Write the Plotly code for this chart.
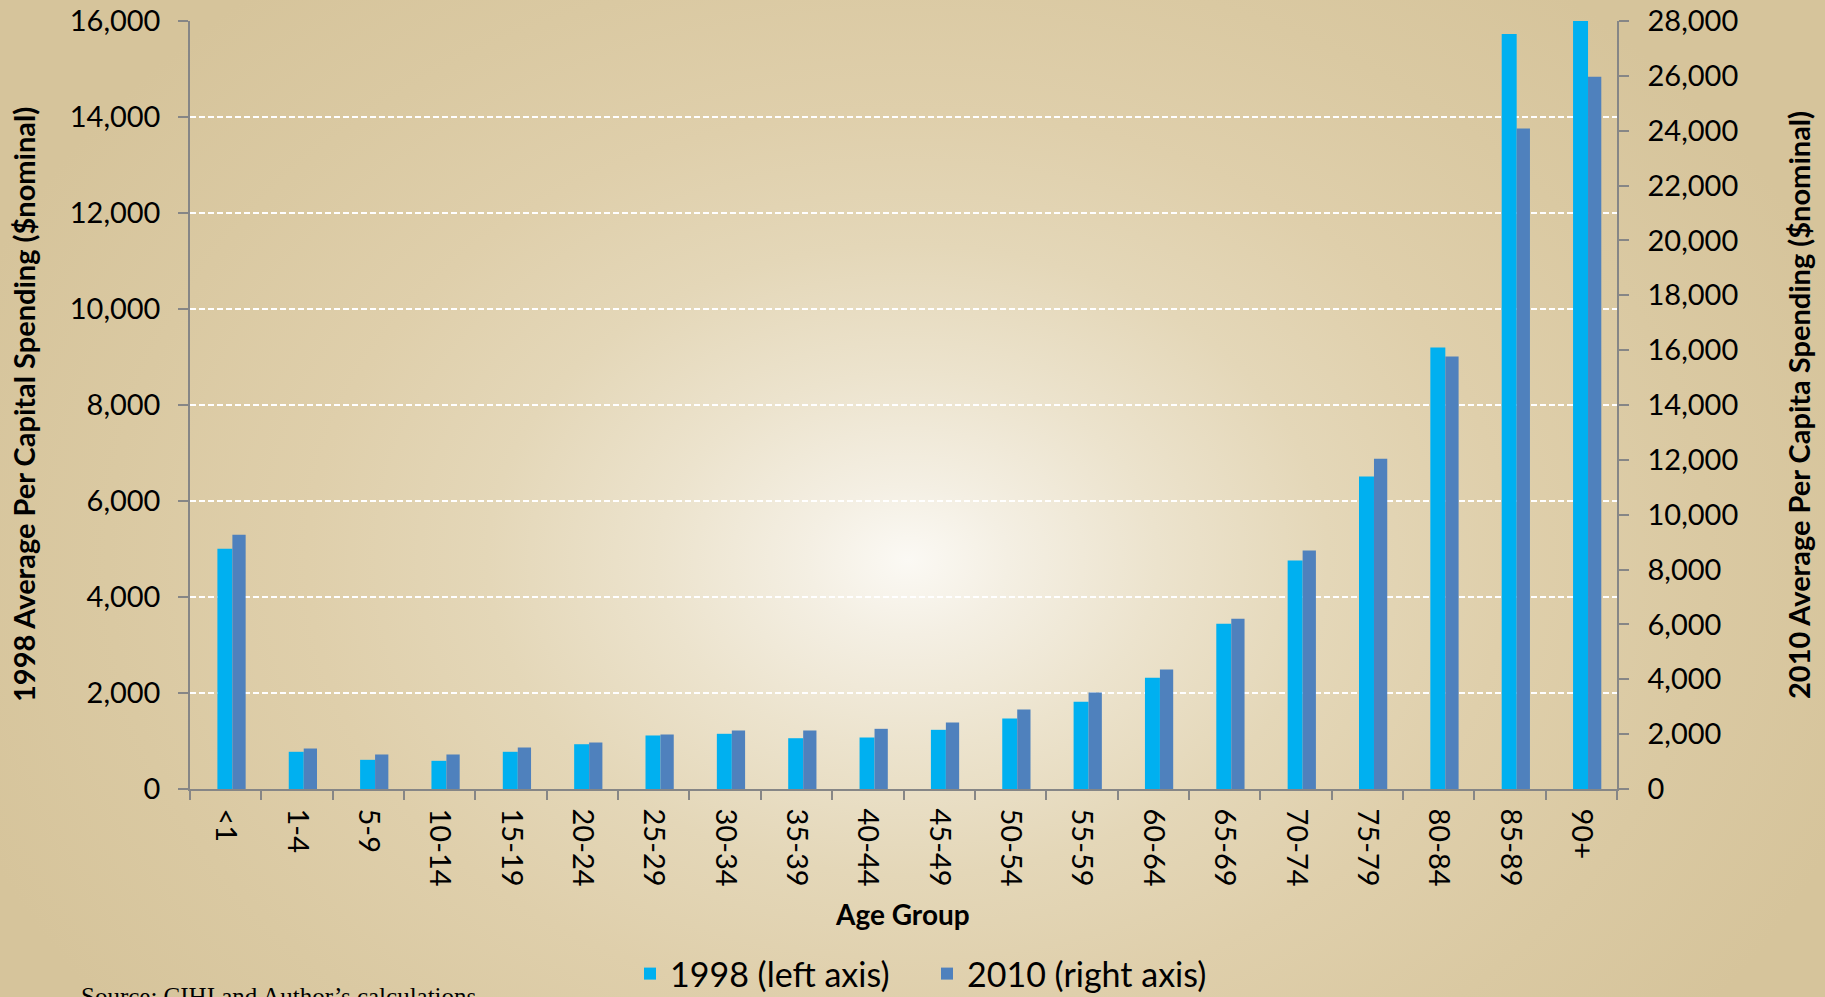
import base64
import plotly.graph_objects as go

age_groups = ["<1", "1-4", "5-9", "10-14", "15-19", "20-24", "25-29", "30-34", "35-39", "40-44",
              "45-49", "50-54", "55-59", "60-64", "65-69", "70-74", "75-79", "80-84", "85-89", "90+"]
spend_1998 = [5006, 775, 608, 587, 775, 933, 1115, 1150, 1058, 1073,
              1233, 1469, 1816, 2317, 3442, 4760, 6510, 9198, 15729, 16000]
spend_2010 = [9271, 1476, 1258, 1258, 1513, 1695, 1987, 2133, 2133, 2194,
              2424, 2898, 3518, 4357, 6205, 8695, 12037, 15767, 24080, 25970]

left_ticks = list(range(0, 16001, 2000))
right_ticks = list(range(0, 28001, 2000))

W, H = 1825, 997
L, R, T, B = 190, 208, 21, 208
pw, ph = W - L - R, H - T - B

svg = f'''<svg xmlns="http://www.w3.org/2000/svg" width="{W}" height="{H}" viewBox="0 0 {W} {H}">
<defs><radialGradient id="g" gradientUnits="userSpaceOnUse" cx="908" cy="560" r="1000"
gradientTransform="translate(908 560) scale(1 0.75) translate(-908 -560)">
<stop offset="0" stop-color="#fbf9f4"/>
<stop offset="0.1" stop-color="#f4efe3"/>
<stop offset="0.25" stop-color="#ece3cd"/>
<stop offset="0.42" stop-color="#e4d7b8"/>
<stop offset="0.6" stop-color="#dfcfab"/>
<stop offset="0.8" stop-color="#dac9a2"/>
<stop offset="1" stop-color="#d6c49b"/>
</radialGradient></defs>
<rect width="{W}" height="{H}" fill="url(#g)"/></svg>'''
bg_uri = "data:image/svg+xml;base64," + base64.b64encode(svg.encode()).decode()

FONT = "Lato"
TICK = 29
fig = go.Figure()
fig.add_trace(go.Bar(x=age_groups, y=spend_1998, name="1998 (left axis)",
                     marker=dict(color="#00B0F0", line=dict(width=0)),
                     width=0.21, offset=-0.116, yaxis="y"))
fig.add_trace(go.Bar(x=age_groups, y=spend_2010, name="2010 (right axis)",
                     marker=dict(color="#4F81BD", line=dict(width=0)),
                     width=0.186, offset=0.094, yaxis="y2"))

axis_col = "#868686"
fig.update_layout(
    width=W, height=H,
    margin=dict(l=L, r=R, t=T, b=B, autoexpand=False),
    paper_bgcolor="rgba(0,0,0,0)", plot_bgcolor="rgba(0,0,0,0)",
    barmode="overlay",
    font=dict(family=FONT, size=TICK, color="#000000"),
    images=[dict(source=bg_uri, xref="paper", yref="paper",
                 x=-L / pw, y=1 + T / ph, sizex=W / pw, sizey=H / ph,
                 xanchor="left", yanchor="top", sizing="stretch", layer="below")],
    xaxis=dict(type="category", showline=True, linecolor=axis_col, linewidth=1.5,
               ticks="outside", tickson="boundaries", ticklen=9, tickcolor=axis_col, tickwidth=1.5,
               tickangle=90, tickfont=dict(family=FONT, size=TICK), showgrid=False,
               ticklabelstandoff=12,
               range=[-0.5, len(age_groups) - 0.5]),
    yaxis=dict(range=[0, 16000], tickvals=left_ticks, tickformat=",",
               showline=True, linecolor=axis_col, linewidth=1.5,
               ticks="outside", ticklen=10, tickcolor=axis_col, tickwidth=1.5,
               ticklabelstandoff=12,
               showgrid=True, gridcolor="#ffffff", gridwidth=1.5, griddash="6px,3px",
               zeroline=False, tickfont=dict(family=FONT, size=TICK)),
    yaxis2=dict(range=[0, 28000], tickvals=right_ticks, tickformat=",", overlaying="y", side="right",
                showline=True, linecolor=axis_col, linewidth=1.5,
                ticks="outside", ticklen=10, tickcolor=axis_col, tickwidth=1.5,
                ticklabelstandoff=13,
                showgrid=False, zeroline=False, tickfont=dict(family=FONT, size=TICK)),
    legend=dict(orientation="h", x=(630 - L) / pw, xanchor="left", y=(T + ph - 974) / ph, yanchor="middle",
                font=dict(family=FONT, size=34), bgcolor="rgba(0,0,0,0)", traceorder="normal",
                itemwidth=30, entrywidth=252, entrywidthmode="pixels"),
    showlegend=True,
)

fig.add_annotation(text="<b>1998 Average Per Capital Spending ($nominal)</b>", xref="paper", yref="paper",
                   x=(23 - L) / pw, y=0.5, xanchor="center", yanchor="middle", textangle=-90,
                   showarrow=False, font=dict(family=FONT, size=29))
fig.add_annotation(text="<b>2010 Average Per Capita Spending ($nominal)</b>", xref="paper", yref="paper",
                   x=(1798 - L) / pw, y=0.5, xanchor="center", yanchor="middle", textangle=-90,
                   showarrow=False, font=dict(family=FONT, size=29))
fig.add_annotation(text="<b>Age Group</b>", xref="paper", yref="paper",
                   x=(902 - L) / pw, y=(T + ph - 914) / ph, xanchor="center", yanchor="middle",
                   showarrow=False, font=dict(family=FONT, size=28))
fig.add_annotation(text="Source: CIHI and Author\u2019s calculations", xref="paper", yref="paper",
                   x=(79 - L) / pw, y=(T + ph - 981) / ph, xanchor="left", yanchor="top",
                   showarrow=False, font=dict(family="Liberation Serif", size=25))

fig.write_html("out.html", config={"displayModeBar": False},
               post_script="document.body.style.margin='0';document.body.style.overflow='hidden';")
